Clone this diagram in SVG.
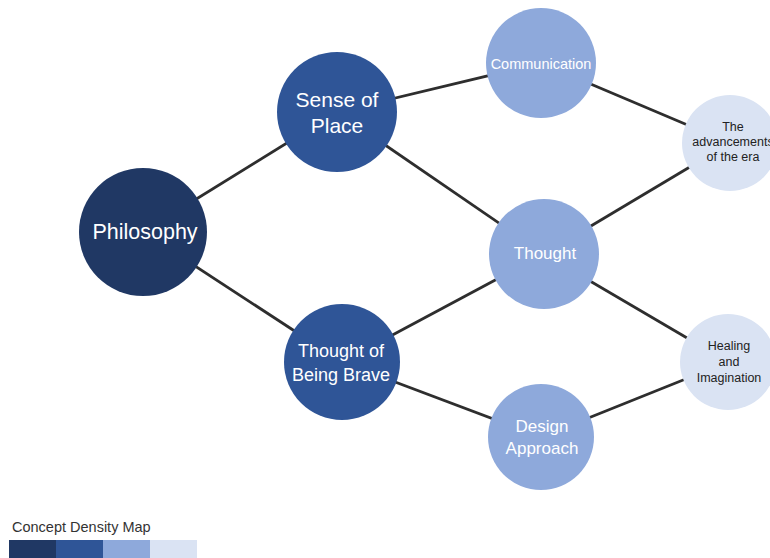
<svg xmlns="http://www.w3.org/2000/svg" width="770" height="558" viewBox="0 0 770 558">
<style>
text{font-family:"Liberation Sans",Arial,sans-serif;text-anchor:middle}
.c line{stroke:#2e2e2e;stroke-width:2.8}
.w{fill:#fff}
.d{fill:#222}
</style>
<rect width="770" height="558" fill="#fff"/>
<g class="c" id="connectors">
<line x1="143" y1="232" x2="337" y2="112"/>
<line x1="143" y1="232" x2="342" y2="362"/>
<line x1="337" y1="112" x2="541" y2="63"/>
<line x1="337" y1="112" x2="544" y2="254"/>
<line x1="342" y1="362" x2="544" y2="254"/>
<line x1="342" y1="362" x2="541" y2="437"/>
<line x1="541" y1="63" x2="730" y2="143"/>
<line x1="544" y1="254" x2="730" y2="143"/>
<line x1="544" y1="254" x2="728" y2="362"/>
<line x1="541" y1="437" x2="728" y2="362"/>
</g>
<g id="philosophy"><circle cx="143" cy="232" r="64" fill="#203864"/><text class="w" x="145" y="239" font-size="21.5">Philosophy</text></g>
<g id="sense"><circle cx="337" cy="112" r="60" fill="#2F5597"/><text class="w" x="337" y="107" font-size="21">Sense of</text><text class="w" x="337" y="133" font-size="21">Place</text></g>
<g id="brave"><circle cx="342" cy="362" r="58" fill="#2F5597"/><text class="w" x="341" y="357" font-size="18">Thought  of</text><text class="w" x="341" y="381" font-size="18">Being Brave</text></g>
<g id="communication"><circle cx="541" cy="63" r="55" fill="#8EA9DB"/><text class="w" x="541" y="69" font-size="14.5">Communication</text></g>
<g id="thought"><circle cx="544" cy="254" r="55" fill="#8EA9DB"/><text class="w" x="545" y="259" font-size="17">Thought</text></g>
<g id="design"><circle cx="541" cy="437" r="53" fill="#8EA9DB"/><text class="w" x="542" y="432" font-size="17">Design</text><text class="w" x="542" y="454" font-size="17">Approach</text></g>
<g id="advancements"><circle cx="730" cy="143" r="48" fill="#DAE3F3"/><text class="d" x="733" y="131" font-size="12.5">The</text><text class="d" x="733" y="146" font-size="12.5">advancements</text><text class="d" x="733" y="161" font-size="12.5">of the era</text></g>
<g id="healing"><circle cx="728" cy="362" r="48" fill="#DAE3F3"/><text class="d" x="729" y="350" font-size="12.5">Healing</text><text class="d" x="729" y="366" font-size="12.5">and</text><text class="d" x="729" y="382" font-size="12.5">Imagination</text></g>
<g id="legend">
<text x="12" y="532" font-size="14.5" fill="#333" style="text-anchor:start">Concept Density Map</text>
<rect x="9" y="540" width="47" height="18" fill="#203864"/>
<rect x="56" y="540" width="47" height="18" fill="#2F5597"/>
<rect x="103" y="540" width="47" height="18" fill="#8EA9DB"/>
<rect x="150" y="540" width="47" height="18" fill="#DAE3F3"/>
</g>
</svg>
